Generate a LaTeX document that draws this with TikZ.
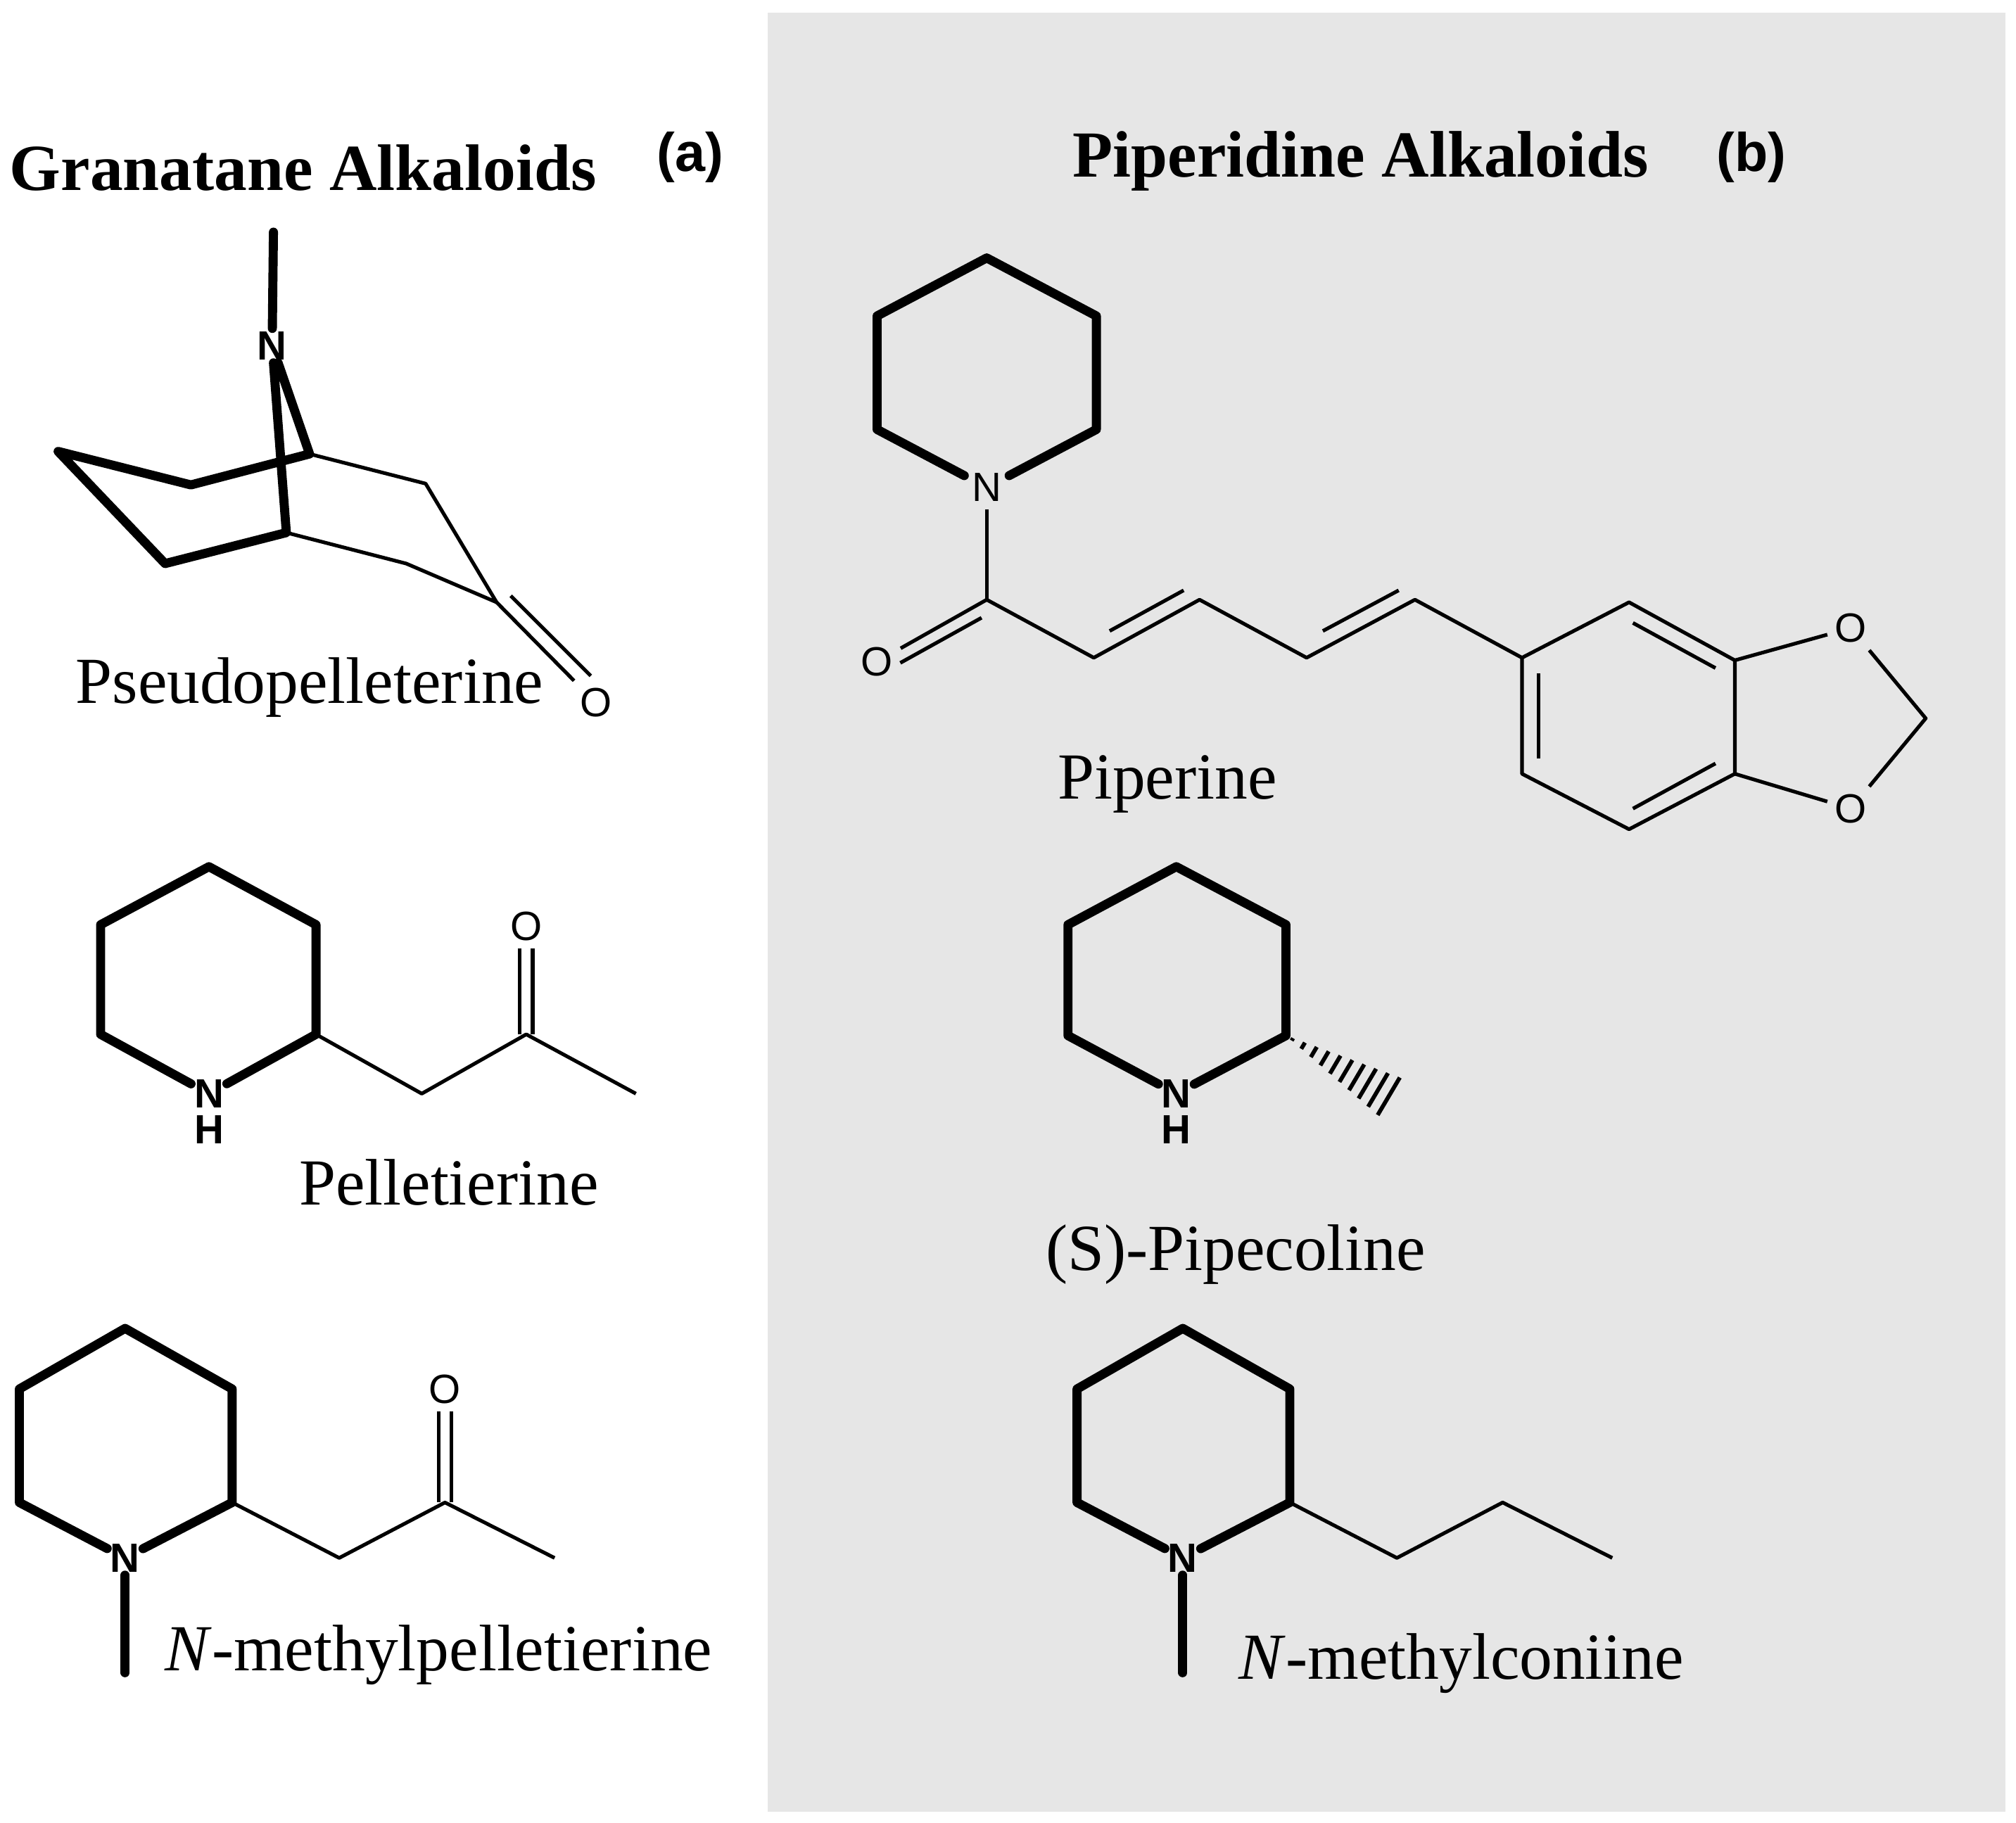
\documentclass[tikz,border=0pt]{standalone}
\usepackage{fontspec}
\setmainfont{Liberation Serif}
\newfontfamily\atomfont{Liberation Sans}
\usetikzlibrary{calc}
\definecolor{panel}{HTML}{E6E6E6}
\begin{document}
\begin{tikzpicture}[x=0.01cm,y=-0.01cm,
  thick bond/.style={line width=2pt,line join=round,line cap=round},
  thin bond/.style={line width=0.8pt,line join=round},
  atom/.style={font=\atomfont\fontsize{9}{10}\selectfont,inner sep=1.5pt},
  boldatom/.style={atom,font=\atomfont\bfseries\fontsize{9}{10}\selectfont,inner sep=0.5pt},
  molname/.style={font=\fontsize{14.5}{16}\selectfont,inner sep=0pt},
  ttl/.style={font=\bfseries\fontsize{14.5}{16}\selectfont,inner sep=0pt},
  tagtxt/.style={font=\atomfont\bfseries\fontsize{12}{14}\selectfont,inner sep=0pt}]
\useasboundingbox (0,0) rectangle (1563,1413);
\fill[panel] (595,10) rectangle (1555,1405);
% titles
\node[ttl] (t1) at (235,130) {Granatane Alkaloids};
\node[tagtxt] (ta) at (535,122) {(a)};
\node[ttl] (t2) at (1055,125) {Piperidine Alkaloids};
\node[tagtxt] (tb) at (1358,122) {(b)};
% ---- Pseudopelleterine
\node[boldatom] (pN) at (211,268) {N};
\coordinate (pMe) at (212,180);
\coordinate (pC1) at (240,352);
\coordinate (pC2) at (148,376);
\coordinate (pC3) at (45,350);
\coordinate (pC4) at (128,437);
\coordinate (pC5) at (222,413);
\coordinate (pC6) at (330,375);
\coordinate (pC7) at (315,437);
\coordinate (pCO) at (385,467);
\node[atom] (pO) at (462,545) {O};
\coordinate (pD1) at (396,462);
\coordinate (pD2) at (458,524);
\draw[thick bond] (pMe) -- (pN);
\draw[thick bond] (pN) -- (pC1) -- (pC2) -- (pC3) -- (pC4) -- (pC5) -- (pN);
\draw[thin bond] (pC1) -- (pC6) -- (pCO) -- (pC7) -- (pC5);
\draw[thin bond] (pCO) -- (pO);
\draw[thin bond] (pD1) -- (pD2);
\node[molname] (pL) at (240,533) {Pseudopelleterine};
% ---- Pelletierine
\coordinate (a1) at (162,672);
\coordinate (a2) at (245,717);
\coordinate (a3) at (245,802);
\node[boldatom] (aN) at (162,848) {N};
\node[boldatom] (aH) at (162,876) {H};
\coordinate (a5) at (78,802);
\coordinate (a6) at (78,717);
\coordinate (a7) at (327,848);
\coordinate (a8) at (408,802);
\coordinate (a9) at (493,848);
\node[atom] (aO) at (408,718) {O};
\draw[thick bond] (aN) -- (a3) -- (a2) -- (a1) -- (a6) -- (a5) -- (aN);
\draw[thin bond] (a3) -- (a7) -- (a8) -- (a9);
\draw[thin bond] ($(a8)+(-5,0)$) -- ($(aO.south)+(-5,0)$);
\draw[thin bond] ($(a8)+(5,0)$) -- ($(aO.south)+(5,0)$);
\node[molname] (aL) at (348,917) {Pelletierine};
% ---- N-methylpelletierine
\coordinate (b1) at (97,1030);
\coordinate (b2) at (180,1077);
\coordinate (b3) at (180,1165);
\node[boldatom] (bN) at (97,1208) {N};
\coordinate (b5) at (15,1165);
\coordinate (b6) at (15,1077);
\coordinate (bMe) at (97,1297);
\coordinate (b7) at (263,1208);
\coordinate (b8) at (345,1165);
\coordinate (b9) at (430,1208);
\node[atom] (bO) at (345,1077) {O};
\draw[thick bond] (bN) -- (b3) -- (b2) -- (b1) -- (b6) -- (b5) -- (bN);
\draw[thick bond] (bN) -- (bMe);
\draw[thin bond] (b3) -- (b7) -- (b8) -- (b9);
\draw[thin bond] ($(b8)+(-5,0)$) -- ($(bO.south)+(-5,0)$);
\draw[thin bond] ($(b8)+(5,0)$) -- ($(bO.south)+(5,0)$);
\node[molname] (bL) at (340,1283) {\textit{N}-methylpelletierine};
% ---- Piperine
\coordinate (c1) at (765,200);
\coordinate (c2) at (850,245);
\coordinate (c3) at (850,333);
\node[atom] (cN) at (765,378) {N};
\coordinate (c5) at (680,333);
\coordinate (c6) at (680,245);
\coordinate (cC) at (765,465);
\node[atom] (cO) at (680,513) {O};
\coordinate (cD1) at (761,479);
\coordinate (cD2) at (698,514);
\coordinate (d1) at (848,510);
\coordinate (d2) at (930,465);
\coordinate (d3) at (1013,510);
\coordinate (d4) at (1097,465);
\coordinate (e1) at (1180,510);
\coordinate (e2) at (1263,467);
\coordinate (e3) at (1345,512);
\coordinate (e4) at (1345,600);
\coordinate (e5) at (1263,643);
\coordinate (e6) at (1180,600);
\node[atom] (o1) at (1435,487) {O};
\node[atom] (o2) at (1435,627) {O};
\coordinate (m) at (1493,557);
\draw[thick bond] (cN) -- (c3) -- (c2) -- (c1) -- (c6) -- (c5) -- (cN);
\draw[thin bond] (cN) -- (cC);
\draw[thin bond] (cC) -- (cO);
\draw[thin bond] (cD1) -- (cD2);
\draw[thin bond] (cC) -- (d1) -- (d2) -- (d3) -- (d4) -- (e1);
\draw[thin bond] ($(d1)!0.15!(d2)+(0,-14)$) -- ($(d1)!0.85!(d2)+(0,-14)$);
\draw[thin bond] ($(d3)!0.15!(d4)+(0,-14)$) -- ($(d3)!0.85!(d4)+(0,-14)$);
\draw[thin bond] (e1) -- (e2) -- (e3) -- (e4) -- (e5) -- (e6) -- cycle;
\draw[thin bond] (1193,522) -- (1193,588);
\draw[thin bond] (1266,483) -- (1330,518);
\draw[thin bond] (1266,627) -- (1330,592);
\draw[thin bond] (e3) -- (o1) -- (m) -- (o2) -- (e4);
\node[molname] (cL) at (905,608) {Piperine};
% ---- (S)-Pipecoline
\coordinate (f1) at (912,672);
\coordinate (f2) at (997,717);
\coordinate (f3) at (997,803);
\node[boldatom] (fN) at (912,848) {N};
\node[boldatom] (fH) at (912,876) {H};
\coordinate (f5) at (828,803);
\coordinate (f6) at (828,717);
\coordinate (fMe) at (1080,852);
\draw[thick bond] (fN) -- (f3) -- (f2) -- (f1) -- (f6) -- (f5) -- (fN);
\foreach \t in {0.06,0.16,...,1.0}
  \draw[line width=0.9pt] ($(f3)!\t!(fMe)!{\t*5pt}!90:(fMe)$) -- ($(f3)!\t!(fMe)!{\t*5pt}!-90:(fMe)$);
\node[molname] (fL) at (958,973) {(S)-Pipecoline};
% ---- N-methylconiine
\coordinate (g1) at (917,1030);
\coordinate (g2) at (1000,1077);
\coordinate (g3) at (1000,1165);
\node[boldatom] (gN) at (917,1208) {N};
\coordinate (g5) at (835,1165);
\coordinate (g6) at (835,1077);
\coordinate (gMe) at (917,1297);
\coordinate (g7) at (1083,1208);
\coordinate (g8) at (1165,1165);
\coordinate (g9) at (1250,1208);
\draw[thick bond] (gN) -- (g3) -- (g2) -- (g1) -- (g6) -- (g5) -- (gN);
\draw[thick bond] (gN) -- (gMe);
\draw[thin bond] (g3) -- (g7) -- (g8) -- (g9);
\node[molname] (gL) at (1133,1290) {\textit{N}-methylconiine};
\end{tikzpicture}
\end{document}
